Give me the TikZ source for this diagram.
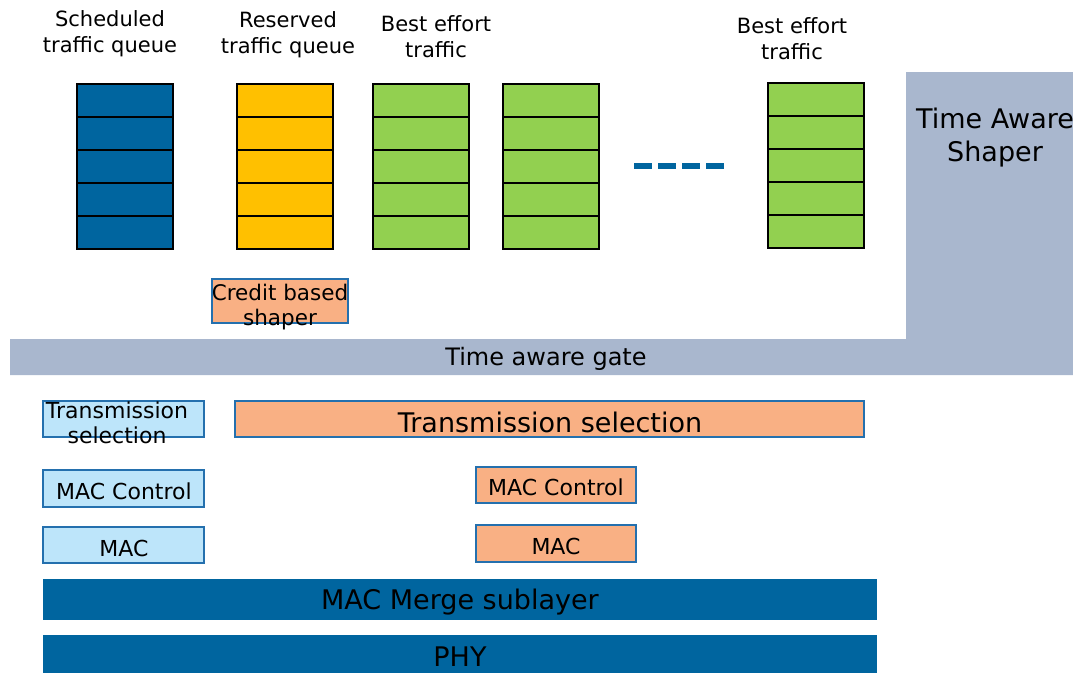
\documentclass[tikz,border=0pt]{standalone}
\usepackage{fontspec}
\setmainfont{DejaVu Sans}
\definecolor{qblue}{HTML}{00659F}
\definecolor{qyellow}{HTML}{FFC000}
\definecolor{qgreen}{HTML}{92D050}
\definecolor{qorange}{HTML}{F9B084}
\definecolor{qlight}{HTML}{BDE5FA}
\definecolor{qgray}{HTML}{A9B7CE}
\definecolor{qedge}{HTML}{2470AE}
\tikzset{
  cell/.style={draw=black, line width=1.8pt, minimum width=96pt, minimum height=33pt, inner sep=0pt, anchor=north west},
  lbl/.style={align=center, font=\fontsize{21}{26}\selectfont, inner sep=0pt},
  obox/.style={draw=qedge, line width=1.5pt, fill=qorange, inner sep=0pt},
  lbox/.style={draw=qedge, line width=1.5pt, fill=qlight, inner sep=0pt},
  bbar/.style={fill=qblue, inner sep=0pt},
  midt/.style={font=\fontsize{22}{26}\selectfont},
  bigt/.style={font=\fontsize{27}{32}\selectfont},
}
\begin{document}
\begin{tikzpicture}[x=1pt,y=-1pt]
\useasboundingbox (0,0) rectangle (1073,672);
% gray time aware shaper + gate
\fill[qgray] (906,72) -- (1073,72) -- (1073,375) -- (10,375) -- (10,339) -- (906,339) -- cycle;
\node[align=center, inner sep=0pt, font=\fontsize{27}{33}\selectfont] (tas) at (995,137.5) {Time Aware\\Shaper};
\node[inner sep=0pt, font=\fontsize{24}{28}\selectfont] (gate) at (546,359) {Time aware gate};
% queue labels
\node[lbl] (l1) at (110,34) {Scheduled\\traffic queue};
\node[lbl] (l2) at (288,35) {Reserved\\traffic queue};
\node[lbl] (l3) at (436,37) {Best effort\\traffic};
\node[lbl] (l4) at (792,39) {Best effort\\traffic};
% queues
\foreach \i in {0,...,4}{
  \node[cell, fill=qblue] (s\i) at (76,{83+33*\i}) {};
  \node[cell, fill=qyellow] (r\i) at (236,{83+33*\i}) {};
  \node[cell, fill=qgreen] (ba\i) at (372,{83+33*\i}) {};
  \node[cell, fill=qgreen] (bb\i) at (502,{83+33*\i}) {};
  \node[cell, fill=qgreen] (bc\i) at (767,{82+33*\i}) {};
}
\coordinate (d1) at (634,165.5);
\coordinate (d2) at (724,165.5);
\draw[qblue, line width=6pt, dash pattern=on 18pt off 6pt] (d1) -- (d2);
% credit based shaper
\node[obox, minimum width=136pt, minimum height=44pt] (cbs) at (280,301) {};
\node[align=center, inner sep=0pt, font=\fontsize{21.5}{25}\selectfont] (cbst) at (280,307.5) {Credit based\\shaper};
% transmission selection
\node[lbox, minimum width=161pt, minimum height=36pt] (tsl) at (123.5,419) {};
\node[align=center, inner sep=0pt, font=\fontsize{22}{25}\selectfont] (tslt) at (117,422.5) {Transmission\\selection};
\node[obox, minimum width=629pt, minimum height=36pt] (tsr) at (549.5,419) {};
\node[bigt, inner sep=0pt] (tsrt) at (550,422) {Transmission selection};
% MAC control / MAC
\node[lbox, minimum width=161pt, minimum height=37pt] (mcl) at (123.5,488.5) {};
\node[midt, inner sep=0pt] (mclt) at (124,491) {MAC Control};
\node[lbox, minimum width=161pt, minimum height=36pt] (macl) at (123.5,545) {};
\node[midt, inner sep=0pt] (maclt) at (124,548) {MAC};
\node[obox, minimum width=160pt, minimum height=36pt] (mcr) at (556,485) {};
\node[midt, inner sep=0pt] (mcrt) at (556,487.5) {MAC Control};
\node[obox, minimum width=160pt, minimum height=37pt] (macr) at (556,543.5) {};
\node[midt, inner sep=0pt] (macrt) at (556,546.5) {MAC};
% merge + phy
\node[bbar, minimum width=834pt, minimum height=41pt] (merge) at (460,599.5) {};
\node[bigt, inner sep=0pt] (merget) at (460,602) {MAC Merge sublayer};
\node[bbar, minimum width=834pt, minimum height=44pt] (phy) at (460,657) {};
\node[bigt, inner sep=0pt] (phyt) at (460,656.5) {PHY};
\end{tikzpicture}
\end{document}
